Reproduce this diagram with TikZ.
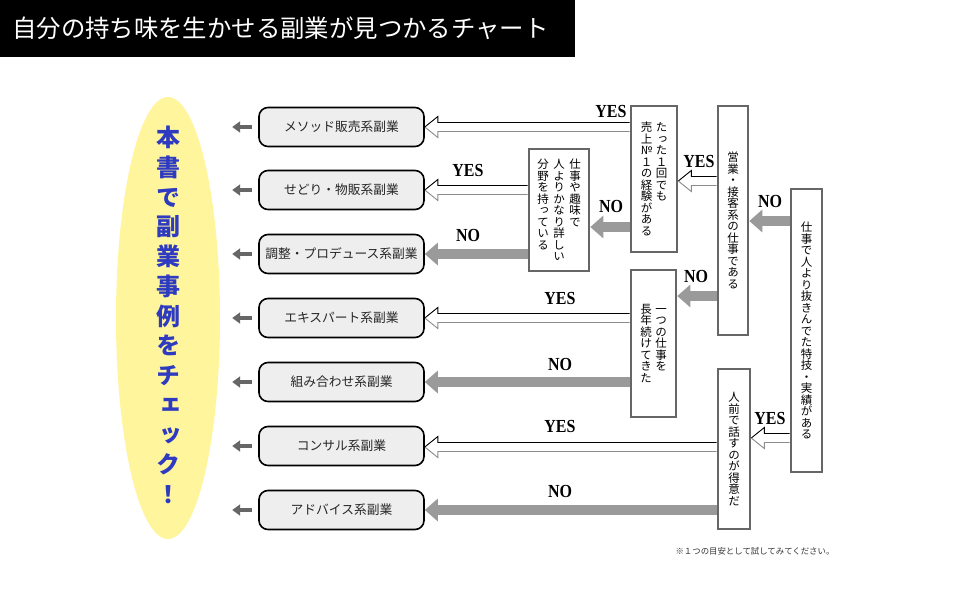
\documentclass[tikz,border=0pt]{standalone}
\usepackage{fontspec}
\setmainfont{Liberation Serif}
\newfontfamily\jp{Noto Sans CJK JP}
\newfontfamily\jpv[RawFeature=+vert]{Noto Sans CJK JP}
\usetikzlibrary{arrows.meta,calc,backgrounds,shapes.geometric}
\definecolor{noGray}{HTML}{9A9A9A}
\definecolor{decBorder}{HTML}{666666}
\definecolor{ellFill}{HTML}{FFF59D}
\definecolor{ellText}{HTML}{2E3BC0}
\definecolor{resFill}{HTML}{EEEEEE}
\definecolor{smallArr}{HTML}{666666}
\definecolor{yesGray}{HTML}{8C8C8C}
\ExplSyntaxOn
\NewDocumentCommand\vcol{O{1}m}{\vtop{\baselineskip=#1em\lineskiplimit=-\maxdimen\lineskip=0pt\tl_map_inline:nn{#2}{\hbox_to_wd:nn{1em}{\hss##1\hss}}}}
\ExplSyntaxOff
\newcommand\lb[1]{\scalebox{1}[1.15]{#1}}
\tikzset{
  res/.style={draw=black, line width=1.6pt, fill=resFill, rounded corners=9pt,
    minimum width=165pt, minimum height=39pt, inner sep=0pt,
    font=\jp\fontsize{12.75}{13}\selectfont, text=black!85},
  dec/.style={draw=decBorder, line width=2.6pt, fill=white, inner sep=0pt,
    font=\jpv\fontsize{11.5}{11.5}\selectfont, text=black},
  lbl/.style={inner sep=0pt, font=\bfseries\fontsize{16}{16}\selectfont, text=black},
  noarrow/.style={draw=noGray, line width=10pt, -{Triangle[length=13pt,width=22pt]}},
  yesline/.style={line width=0.9pt, line join=miter},
  smallarr/.style={draw=smallArr, line width=3.5pt, -{Triangle[length=8pt,width=11pt]}}
}
\newcommand\yesarr[3]{%
  \coordinate (ys) at (#1.west |- 0,#3);
  \coordinate (ye) at (#2.east |- 0,#3);
  \fill[white] ($(ys)+(0,-4.5)$) -- ($(ye)+(13,-4.5)$) -- ($(ye)+(13,-10.5)$) -- (ye)
     -- ($(ye)+(13,10.5)$) -- ($(ye)+(13,4.5)$) -- ($(ys)+(0,4.5)$) -- cycle;
  \draw[yesline, black] ($(ys)+(0,-4.5)$) -- ($(ye)+(13,-4.5)$) -- ($(ye)+(13,-10.5)$) -- (ye);
  \draw[yesline, yesGray] (ye) -- ($(ye)+(13,10.5)$) -- ($(ye)+(13,4.5)$) -- ($(ys)+(0,4.5)$);
}
\begin{document}
\begin{tikzpicture}[x=1pt, y=-1pt]
\useasboundingbox (0,0) rectangle (970,600);
\begin{scope}[on background layer]
  \fill[white] (0,0) rectangle (970,600);
\end{scope}

% title
\node[fill=black, minimum width=575pt, minimum height=57pt, anchor=north west, inner sep=0pt] (titlebar) at (0,0) {};
\node[anchor=west, inner sep=0pt, text=white, font=\jp\fontsize{24.4}{25}\selectfont] (title) at (12,28) {自分の持ち味を生かせる副業が見つかるチャート};

% ellipse
\node[ellipse, fill=ellFill, minimum width=104pt, minimum height=442pt, inner sep=0pt] (ell) at (168,318) {};
\node[inner sep=0pt, text=ellText, font=\jpv\bfseries\fontsize{24}{24}\selectfont] (elltext) at (168,315) {\vcol[1.24]{本書で副業事例をチェック！}};

% result boxes
\node[res] (r1) at (341.5,127) {メソッド販売系副業};
\node[res] (r2) at (341.5,190) {せどり・物販系副業};
\node[res] (r3) at (341.5,254) {調整・プロデュース系副業};
\node[res] (r4) at (341.5,318) {エキスパート系副業};
\node[res] (r5) at (341.5,382) {組み合わせ系副業};
\node[res] (r6) at (341.5,446) {コンサル系副業};
\node[res] (r7) at (341.5,510) {アドバイス系副業};

\foreach \r in {r1,r2,r3,r4,r5,r6,r7}{
  \draw[smallarr] ($(\r.west)+(-6,0)$) coordinate (\r s) -- ($(\r.west)+(-26,0)$) coordinate (\r e);
}

% decision boxes
\node[dec, minimum width=46pt, minimum height=146pt] (d1) at (654,179)
  {\vcol{売上№１の経験がある}\kern3.5pt\vcol{たった１回でも}};
\node[dec, minimum width=60pt, minimum height=122pt] (d2) at (559,210)
  {\vcol{分野を持っている}\kern4.5pt\vcol{人よりかなり詳しい}\kern4.5pt\vcol{仕事や趣味で}};
\node[dec, minimum width=30pt, minimum height=229pt] (d3) at (733,220.5)
  {\vcol{営業・接客系の仕事である}};
\node[dec, minimum width=31pt, minimum height=283pt] (d4) at (806.5,330.5)
  {\vcol{仕事で人より抜きんでた特技・実績がある}};
\node[dec, minimum width=45pt, minimum height=147pt] (d5) at (653.5,343.5)
  {\vcol{長年続けてきた}\kern3.5pt\vcol{一つの仕事を}};
\node[dec, minimum width=32pt, minimum height=160pt] (d6) at (734,449)
  {\vcol{人前で話すのが得意だ}};

% connectors
\begin{scope}[on background layer]
  \yesarr{d1}{r1}{127}
  \yesarr{d2}{r2}{190}
  \yesarr{d3}{d1}{181}
  \yesarr{d5}{r4}{318}
  \yesarr{d4}{d6}{438}
  \yesarr{d6}{r6}{447}
  \draw[noarrow] (d1.west |- 0,227) -- (d2.east |- 0,227);
  \draw[noarrow] (d2.west |- 0,254) -- (r3.east |- 0,254);
  \draw[noarrow] (d4.west |- 0,221) -- (d3.east |- 0,221);
  \draw[noarrow] (d3.west |- 0,296) -- (d5.east |- 0,296);
  \draw[noarrow] (d5.west |- 0,382) -- (r5.east |- 0,382);
  \draw[noarrow] (d6.west |- 0,510) -- (r7.east |- 0,510);
\end{scope}

% labels
\node[lbl] (l1) at (611,111) {\lb{YES}};
\node[lbl] (l2) at (468,170) {\lb{YES}};
\node[lbl] (l3) at (611,206) {\lb{NO}};
\node[lbl] (l4) at (468,235) {\lb{NO}};
\node[lbl] (l5) at (699,161) {\lb{YES}};
\node[lbl] (l6) at (770,201) {\lb{NO}};
\node[lbl] (l7) at (696,276) {\lb{NO}};
\node[lbl] (l8) at (560,298) {\lb{YES}};
\node[lbl] (l9) at (560,364) {\lb{NO}};
\node[lbl] (l10) at (770,418) {\lb{YES}};
\node[lbl] (l11) at (560,426) {\lb{YES}};
\node[lbl] (l12) at (560,491) {\lb{NO}};

% footnote
\node[inner sep=0pt, text=black!80, font=\jp\fontsize{8.4}{9}\selectfont] (note) at (755,551) {※１つの目安として試してみてください。};
\end{tikzpicture}
\end{document}
